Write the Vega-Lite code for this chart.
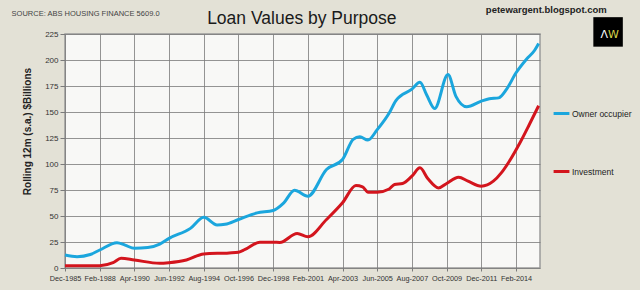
{
  "$schema": "https://vega.github.io/schema/vega-lite/v6.json",
  "width": 475,
  "height": 234,
  "autosize": "none",
  "padding": {"left": 65, "top": 34, "right": 100, "bottom": 22},
  "background": "#e3e1d6",
  "config": {
    "view": {"fill": "#f8f8f6", "stroke": "#9a9a9a", "strokeWidth": 1.5},
    "font": "Liberation Sans"
  },
  "layer": [
    {
      "data": {"values": [
        {"date": "1985-12-01", "series": "Owner occupier", "value": 12.5},
        {"date": "1986-09-01", "series": "Owner occupier", "value": 10.9},
        {"date": "1987-07-01", "series": "Owner occupier", "value": 13},
        {"date": "1988-02-01", "series": "Owner occupier", "value": 17.3},
        {"date": "1989-03-01", "series": "Owner occupier", "value": 24.3},
        {"date": "1989-09-01", "series": "Owner occupier", "value": 22},
        {"date": "1990-04-01", "series": "Owner occupier", "value": 18.9},
        {"date": "1991-02-01", "series": "Owner occupier", "value": 19.6},
        {"date": "1991-11-01", "series": "Owner occupier", "value": 23},
        {"date": "1992-06-01", "series": "Owner occupier", "value": 28.5},
        {"date": "1993-10-01", "series": "Owner occupier", "value": 38.1},
        {"date": "1994-08-01", "series": "Owner occupier", "value": 48.7},
        {"date": "1995-06-01", "series": "Owner occupier", "value": 41.3},
        {"date": "1995-12-01", "series": "Owner occupier", "value": 42},
        {"date": "1996-10-01", "series": "Owner occupier", "value": 46.6},
        {"date": "1997-12-01", "series": "Owner occupier", "value": 53},
        {"date": "1998-12-01", "series": "Owner occupier", "value": 55.3},
        {"date": "1999-08-01", "series": "Owner occupier", "value": 62.7},
        {"date": "2000-04-01", "series": "Owner occupier", "value": 74.8},
        {"date": "2001-02-01", "series": "Owner occupier", "value": 69},
        {"date": "2002-04-01", "series": "Owner occupier", "value": 94.7},
        {"date": "2003-04-01", "series": "Owner occupier", "value": 104.3},
        {"date": "2003-12-01", "series": "Owner occupier", "value": 123.6},
        {"date": "2004-05-01", "series": "Owner occupier", "value": 126.2},
        {"date": "2004-11-01", "series": "Owner occupier", "value": 123},
        {"date": "2005-06-01", "series": "Owner occupier", "value": 133},
        {"date": "2006-03-01", "series": "Owner occupier", "value": 149},
        {"date": "2006-08-01", "series": "Owner occupier", "value": 161},
        {"date": "2007-08-01", "series": "Owner occupier", "value": 172},
        {"date": "2008-02-01", "series": "Owner occupier", "value": 178.5},
        {"date": "2008-07-01", "series": "Owner occupier", "value": 166.6},
        {"date": "2009-01-01", "series": "Owner occupier", "value": 153.4},
        {"date": "2009-11-01", "series": "Owner occupier", "value": 186},
        {"date": "2010-05-01", "series": "Owner occupier", "value": 165},
        {"date": "2011-01-01", "series": "Owner occupier", "value": 155},
        {"date": "2011-12-01", "series": "Owner occupier", "value": 160.4},
        {"date": "2012-06-01", "series": "Owner occupier", "value": 162.7},
        {"date": "2013-01-01", "series": "Owner occupier", "value": 163.6},
        {"date": "2013-07-01", "series": "Owner occupier", "value": 172},
        {"date": "2014-02-01", "series": "Owner occupier", "value": 187.7},
        {"date": "2014-10-01", "series": "Owner occupier", "value": 201},
        {"date": "2015-04-01", "series": "Owner occupier", "value": 209.4},
        {"date": "2015-07-01", "series": "Owner occupier", "value": 215.9},
        {"date": "1985-12-01", "series": "Investment", "value": 2.2},
        {"date": "1988-02-01", "series": "Investment", "value": 2.2},
        {"date": "1988-12-01", "series": "Investment", "value": 5.1},
        {"date": "1989-06-01", "series": "Investment", "value": 9.3},
        {"date": "1990-04-01", "series": "Investment", "value": 7.7},
        {"date": "1991-11-01", "series": "Investment", "value": 4.5},
        {"date": "1992-06-01", "series": "Investment", "value": 5.1},
        {"date": "1993-07-01", "series": "Investment", "value": 7.7},
        {"date": "1994-08-01", "series": "Investment", "value": 13.5},
        {"date": "1996-03-01", "series": "Investment", "value": 14.5},
        {"date": "1996-10-01", "series": "Investment", "value": 15.2},
        {"date": "1997-03-01", "series": "Investment", "value": 17.8},
        {"date": "1998-02-01", "series": "Investment", "value": 24.8},
        {"date": "1998-12-01", "series": "Investment", "value": 24.8},
        {"date": "1999-05-01", "series": "Investment", "value": 24.5},
        {"date": "2000-06-01", "series": "Investment", "value": 33.2},
        {"date": "2001-02-01", "series": "Investment", "value": 30},
        {"date": "2002-04-01", "series": "Investment", "value": 46.6},
        {"date": "2003-04-01", "series": "Investment", "value": 62.7},
        {"date": "2004-02-01", "series": "Investment", "value": 79.3},
        {"date": "2004-07-01", "series": "Investment", "value": 78},
        {"date": "2004-11-01", "series": "Investment", "value": 72.9},
        {"date": "2005-06-01", "series": "Investment", "value": 72.9},
        {"date": "2006-03-01", "series": "Investment", "value": 76},
        {"date": "2006-07-01", "series": "Investment", "value": 80.3},
        {"date": "2007-01-01", "series": "Investment", "value": 81.3},
        {"date": "2007-08-01", "series": "Investment", "value": 88.3},
        {"date": "2008-02-01", "series": "Investment", "value": 96.3},
        {"date": "2008-08-01", "series": "Investment", "value": 85.8},
        {"date": "2009-04-01", "series": "Investment", "value": 77},
        {"date": "2009-10-01", "series": "Investment", "value": 81.3},
        {"date": "2010-07-01", "series": "Investment", "value": 87.3},
        {"date": "2011-02-01", "series": "Investment", "value": 83.5},
        {"date": "2011-12-01", "series": "Investment", "value": 78.7},
        {"date": "2012-09-01", "series": "Investment", "value": 83.5},
        {"date": "2013-03-01", "series": "Investment", "value": 91.5},
        {"date": "2013-09-01", "series": "Investment", "value": 102.7},
        {"date": "2014-05-01", "series": "Investment", "value": 120.4},
        {"date": "2014-12-01", "series": "Investment", "value": 138},
        {"date": "2015-07-01", "series": "Investment", "value": 156}
      ]},
      "mark": {"type": "line", "strokeWidth": 3, "interpolate": "monotone"},
      "encoding": {
        "x": {
          "field": "date", "type": "temporal",
          "scale": {"type": "utc", "domain": [{"year": 1985, "month": 12, "date": 1, "utc": true}, {"year": 2015, "month": 8, "date": 1, "utc": true}]},
          "axis": {
            "title": null,
            "format": "%b-%Y",
            "tickCount": 30,
            "values": [
              {"year": 1985, "month": 12, "date": 1, "utc": true},
              {"year": 1988, "month": 2, "date": 1, "utc": true},
              {"year": 1990, "month": 4, "date": 1, "utc": true},
              {"year": 1992, "month": 6, "date": 1, "utc": true},
              {"year": 1994, "month": 8, "date": 1, "utc": true},
              {"year": 1996, "month": 10, "date": 1, "utc": true},
              {"year": 1998, "month": 12, "date": 1, "utc": true},
              {"year": 2001, "month": 2, "date": 1, "utc": true},
              {"year": 2003, "month": 4, "date": 1, "utc": true},
              {"year": 2005, "month": 6, "date": 1, "utc": true},
              {"year": 2007, "month": 8, "date": 1, "utc": true},
              {"year": 2009, "month": 10, "date": 1, "utc": true},
              {"year": 2011, "month": 12, "date": 1, "utc": true},
              {"year": 2014, "month": 2, "date": 1, "utc": true}
            ],
            "grid": true, "gridColor": "#7a7a7a", "gridWidth": 0.8, "gridOpacity": 1,
            "domain": false, "ticks": true, "tickSize": 3, "tickColor": "#7a7a7a",
            "labelFontSize": 7.3, "labelColor": "#333", "labelPadding": 3, "labelFlush": false, "labelOverlap": false
          }
        },
        "y": {
          "field": "value", "type": "quantitative",
          "scale": {"domain": [0, 225], "nice": false},
          "axis": {
            "title": "Rolling 12m (s.a.) $Billions",
            "titleFontSize": 10, "titleFontWeight": "bold", "titleColor": "#222",
            "titleX": -33, "titleY": 97, "titleAngle": -90,
            "tickCount": 20,
            "values": [0, 25, 50, 75, 100, 125, 150, 175, 200, 225],
            "grid": true, "gridColor": "#7a7a7a", "gridWidth": 0.8, "gridOpacity": 1,
            "domain": false, "tickSize": 5, "tickColor": "#7a7a7a",
            "labelFontSize": 8, "labelColor": "#333", "labelPadding": 2
          }
        },
        "color": {
          "field": "series", "type": "nominal",
          "scale": {"domain": ["Owner occupier", "Investment"], "range": ["#1ba6dd", "#d3151d"]},
          "legend": {
            "title": null, "orient": "none", "legendX": 487, "legendY": 70,
            "symbolType": "stroke", "symbolStrokeWidth": 3, "symbolSize": 250,
            "rowPadding": 42, "labelFontSize": 8.5, "labelColor": "#222", "labelOffset": 1
          }
        }
      }
    },
    {
      "data": {"values": [{"label": "Loan Values by Purpose"}]},
      "mark": {"type": "text", "align": "center", "baseline": "middle", "fontSize": 17.5, "color": "#1a1a1a", "clip": false},
      "encoding": {
        "text": {"field": "label"},
        "x": {"datum": {"year": 2000, "month": 9, "date": 15, "utc": true}, "type": "temporal"},
        "y": {"datum": 239}
      }
    },
    {
      "data": {"values": [{"label": "SOURCE: ABS HOUSING FINANCE 5609.0"}]},
      "mark": {"type": "text", "align": "left", "baseline": "middle", "fontSize": 7.5, "color": "#444", "clip": false},
      "encoding": {
        "text": {"field": "label"},
        "x": {"datum": {"year": 1982, "month": 8, "date": 1, "utc": true}, "type": "temporal"},
        "y": {"datum": 244.7}
      }
    },
    {
      "data": {"values": [{"label": "petewargent.blogspot.com"}]},
      "mark": {"type": "text", "align": "right", "baseline": "middle", "fontSize": 9.5, "fontWeight": "bold", "color": "#222", "clip": false},
      "encoding": {
        "text": {"field": "label"},
        "x": {"datum": {"year": 2019, "month": 10, "date": 1, "utc": true}, "type": "temporal"},
        "y": {"datum": 248.5}
      }
    },
    {
      "data": {"values": [{"label": "AW"}]},
      "mark": {"type": "square", "size": 870, "color": "#000", "opacity": 1, "clip": false},
      "encoding": {
        "x": {"datum": {"year": 2019, "month": 11, "date": 1, "utc": true}, "type": "temporal"},
        "y": {"datum": 227}
      }
    },
    {
      "data": {"values": [{"label": "Λ"}]},
      "mark": {"type": "text", "align": "right", "baseline": "middle", "fontSize": 11, "font": "DejaVu Sans", "color": "#ffffff", "clip": false, "dy": 3},
      "encoding": {
        "text": {"field": "label"},
        "x": {"datum": {"year": 2019, "month": 11, "date": 1, "utc": true}, "type": "temporal"},
        "y": {"datum": 227}
      }
    },
    {
      "data": {"values": [{"label": "W"}]},
      "mark": {"type": "text", "align": "left", "baseline": "middle", "fontSize": 11, "font": "DejaVu Sans", "color": "#d8d44a", "clip": false, "dy": 3},
      "encoding": {
        "text": {"field": "label"},
        "x": {"datum": {"year": 2019, "month": 11, "date": 1, "utc": true}, "type": "temporal"},
        "y": {"datum": 227}
      }
    }
  ]
}
